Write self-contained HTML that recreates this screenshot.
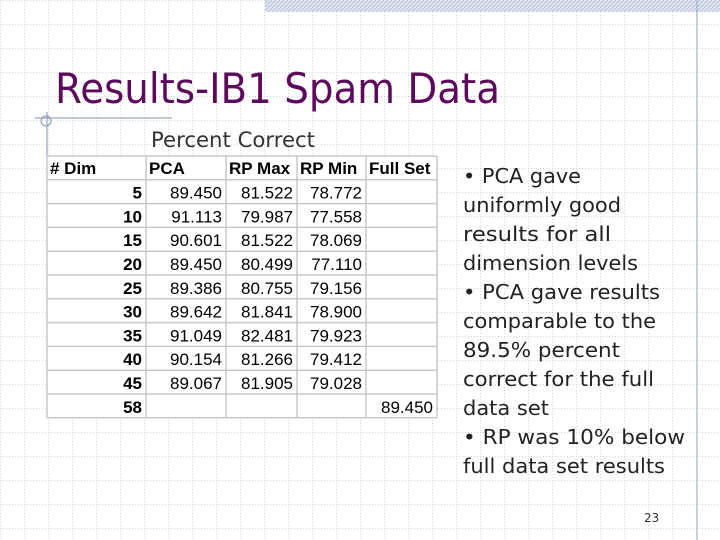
<!DOCTYPE html>
<html><head><meta charset="utf-8"><style>
body{margin:0;background:#fff}
svg{display:block}
</style></head><body>
<svg width="720" height="540" viewBox="0 0 720 540" xmlns="http://www.w3.org/2000/svg">
<defs>
<pattern id="grid" width="24" height="24" patternUnits="userSpaceOnUse">
<path d="M0 0.5H24M0.5 0V24" stroke="#d4d4d4" stroke-width="1" stroke-dasharray="1 2" fill="none"/>
</pattern>
<pattern id="hatch" width="4" height="4" patternUnits="userSpaceOnUse">
<rect width="4" height="4" fill="#dfe4ee"/><path d="M0 4L4 0" stroke="#b8c2d6" stroke-width="1"/>
</pattern>
</defs>
<rect width="720" height="540" fill="url(#grid)"/>
<rect x="265" y="0" width="455" height="12" fill="url(#hatch)"/>
<line x1="697" y1="0" x2="697" y2="540" stroke="#9aa6c4" stroke-width="1"/>
<line x1="35" y1="118" x2="172" y2="118" stroke="#8090b8" stroke-width="1"/>
<line x1="47" y1="112" x2="47" y2="295" stroke="#8090b8" stroke-width="1"/>
<circle cx="46" cy="121" r="5" fill="none" stroke="#8090b8"/>
<text x="55" y="103" font-family="DejaVu Sans, sans-serif" font-size="42" fill="#5c0a5c" textLength="445" lengthAdjust="spacingAndGlyphs">Results-IB1 Spam Data</text>
<text x="151" y="147" font-family="DejaVu Sans, sans-serif" font-size="21" fill="#333" textLength="164" lengthAdjust="spacingAndGlyphs">Percent Correct</text>
<g id="tbl"></g>
<g font-family="DejaVu Sans, sans-serif" font-size="20" fill="#222">
<text x="463" y="183" textLength="118" lengthAdjust="spacingAndGlyphs">• PCA gave</text>
<text x="463" y="212" textLength="158" lengthAdjust="spacingAndGlyphs">uniformly good</text>
<text x="463" y="241" textLength="148" lengthAdjust="spacingAndGlyphs">results for all</text>
<text x="463" y="270" textLength="175" lengthAdjust="spacingAndGlyphs">dimension levels</text>
<text x="463" y="299" textLength="197" lengthAdjust="spacingAndGlyphs">• PCA gave results</text>
<text x="463" y="328" textLength="193" lengthAdjust="spacingAndGlyphs">comparable to the</text>
<text x="463" y="357" textLength="157" lengthAdjust="spacingAndGlyphs">89.5% percent</text>
<text x="463" y="386" textLength="191" lengthAdjust="spacingAndGlyphs">correct for the full</text>
<text x="463" y="415" textLength="86" lengthAdjust="spacingAndGlyphs">data set</text>
<text x="463" y="444" textLength="222" lengthAdjust="spacingAndGlyphs">• RP was 10% below</text>
<text x="463" y="473" textLength="202" lengthAdjust="spacingAndGlyphs">full data set results</text>
</g>
<text x="644" y="522" font-family="DejaVu Sans, sans-serif" font-size="12" fill="#333">23</text>
</svg>
<script>
const headers=["# Dim","PCA","RP Max","RP Min","Full Set"];
const dims=["5","10","15","20","25","30","35","40","45","58"];
const pca=["89.450","91.113","90.601","89.450","89.386","89.642","91.049","90.154","89.067",""];
const rpMax=["81.522","79.987","81.522","80.499","80.755","81.841","82.481","81.266","81.905",""];
const rpMin=["78.772","77.558","78.069","77.110","79.156","78.900","79.923","79.412","79.028",""];
const fullSet=["","","","","","","","","","89.450"];
const NS="http://www.w3.org/2000/svg";
const g=document.getElementById('tbl');
const cols=[47,146,226,297,366,437];
const tableTop=156,rh=23.8,n=dims.length+1;
function mk(t,a){const e=document.createElementNS(NS,t);for(const k in a)e.setAttribute(k,a[k]);g.appendChild(e);return e;}
const bg=mk('rect',{x:cols[0],y:tableTop,width:cols[5]-cols[0],height:rh*n,fill:'#fff'});


for(let i=0;i<=n;i++){const l=mk('line',{x1:cols[0],x2:cols[5],y1:tableTop+i*rh,y2:tableTop+i*rh,stroke:'#c8c8c8','stroke-width':1.5});

}
for(const c of cols){const l=mk('line',{x1:c,x2:c,y1:tableTop,y2:tableTop+rh*n,stroke:'#c8c8c8','stroke-width':1.5});

}
headers.forEach((h,j)=>{const t=mk('text',{x:cols[j]+3,y:tableTop+rh-6,'font-family':'Liberation Sans, sans-serif','font-size':17,'font-weight':'bold',fill:'#000'});t.textContent=h;

});
const series=[dims,pca,rpMax,rpMin,fullSet];
for(let i=0;i<dims.length;i++){series.forEach((s,j)=>{if(!s[i])return;const t=mk('text',{x:cols[j+1]-4,y:tableTop+rh*(i+2)-5,'text-anchor':'end','font-family':'Liberation Sans, sans-serif','font-size':17,'font-weight':j==0?'bold':'normal',fill:'#000'});t.textContent=s[i];

});}
</script>
</body></html>
